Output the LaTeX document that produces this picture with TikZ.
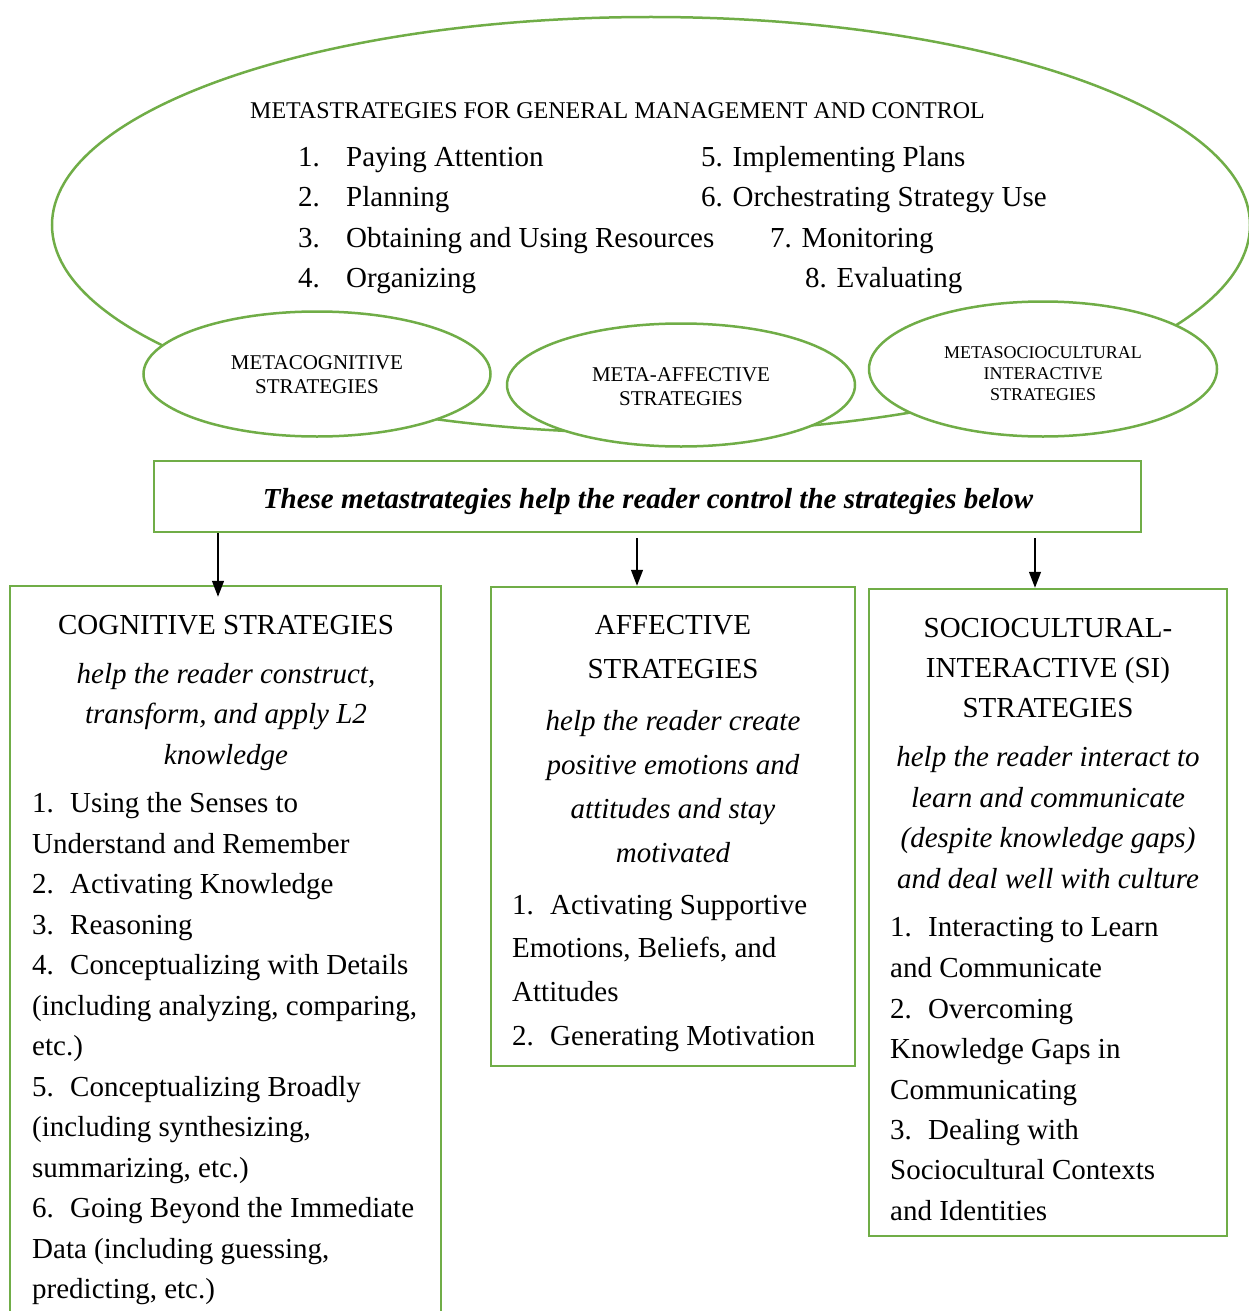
\documentclass[tikz,border=0pt]{standalone}
\usepackage{fontspec}
\setmainfont{Liberation Serif}
\usetikzlibrary{shapes.geometric,arrows.meta}
\definecolor{grn}{HTML}{70AD47}
\newcommand\numbx[1]{\makebox[38pt][l]{#1}}
\newcommand\numtop[1]{\makebox[48pt][l]{#1}}
\begin{document}
\begin{tikzpicture}[x=1pt,y=-1pt,
  gline/.style={draw=grn,line width=2.5pt},
  ell/.style={gline,ellipse,fill=white,inner sep=0},
  box/.style={gline,rectangle,inner sep=0},
  L/.style={font=\fontsize{29}{35}\selectfont,inner sep=0,anchor=base west},
  C/.style={font=\fontsize{29}{35}\selectfont,inner sep=0,anchor=base},
  IC/.style={font=\fontsize{29}{35}\selectfont\itshape,inner sep=0,anchor=base},
  arr/.style={-{Triangle[length=16pt,width=12pt]},line width=1.3pt}]
\useasboundingbox (0,0) rectangle (1248,1311);

% big ellipse
\node[gline,ellipse,inner sep=0,minimum width=1198pt,minimum height=416pt] (big) at (651,225) {};
\node[font=\fontsize{24}{28}\selectfont,inner sep=0,anchor=base west] (ttl) at (250,119) {METASTRATEGIES FOR GENERAL MANAGEMENT AND CONTROL};
\node[L] (m1) at (298,166) {\numtop{1.}Paying Attention};
\node[L] (m2) at (298,206) {\numtop{2.}Planning};
\node[L] (m3) at (298,247) {\numtop{3.}Obtaining and Using Resources};
\node[L] (m4) at (298,287) {\numtop{4.}Organizing};
\node[L] (m5) at (701,166) {5. Implementing Plans};
\node[L] (m6) at (701,206) {6. Orchestrating Strategy Use};
\node[L] (m7) at (770,247) {7. Monitoring};
\node[L] (m8) at (805,287) {8. Evaluating};

% small ellipses
\node[ell,minimum width=347pt,minimum height=125pt] (e1) at (317,374) {};
\node[ell,minimum width=348pt,minimum height=123pt] (e2) at (681,385) {};
\node[ell,minimum width=348pt,minimum height=135pt] (e3) at (1043,369) {};
\node[font=\fontsize{21}{24}\selectfont,align=center,inner sep=0] (t1) at (317,375) {METACOGNITIVE\\STRATEGIES};
\node[font=\fontsize{21}{24}\selectfont,align=center,inner sep=0] (t2) at (681,387) {META-AFFECTIVE\\STRATEGIES};
\node[font=\fontsize{18}{21}\selectfont,align=center,inner sep=0] (t3) at (1043,374) {METASOCIOCULTURAL\\INTERACTIVE\\STRATEGIES};

% banner
\node[box,minimum width=987pt,minimum height=71pt] (ban) at (647.5,496.5) {};
\node[font=\fontsize{29}{35}\selectfont\bfseries\itshape,inner sep=0,anchor=base] (bant) at (648,508) {These metastrategies help the reader control the strategies below};

% boxes
\node[box,minimum width=431pt,minimum height=760pt] (cog) at (225.5,966) {};
\node[box,minimum width=364pt,minimum height=479pt] (aff) at (673,826.5) {};
\node[box,minimum width=358pt,minimum height=647pt] (soc) at (1048,912.5) {};

% arrows
\coordinate (x1) at (218,0);
\coordinate (x2) at (637,0);
\coordinate (x3) at (1035,0);
\draw[arr] (ban.south -| x1) -- ([yshift=-12pt]cog.north -| x1);
\draw[arr] ([yshift=-5pt]ban.south -| x2) -- (aff.north -| x2);
\draw[arr] ([yshift=-5pt]ban.south -| x3) -- (soc.north -| x3);

% cognitive text
\node[C] (c0) at (226,634) {COGNITIVE STRATEGIES};
\node[IC] (ci1) at (226,683) {help the reader construct,};
\node[IC] (ci2) at (226,723) {transform, and apply L2};
\node[IC] (ci3) at (226,764) {knowledge};
\node[L] (c1) at (32,812) {\numbx{1.}Using the Senses to};
\node[L] (c2) at (32,853) {Understand and Remember};
\node[L] (c3) at (32,893) {\numbx{2.}Activating Knowledge};
\node[L] (c4) at (32,934) {\numbx{3.}Reasoning};
\node[L] (c5) at (32,974) {\numbx{4.}Conceptualizing with Details};
\node[L] (c6) at (32,1015) {(including analyzing, comparing,};
\node[L] (c7) at (32,1055) {etc.)};
\node[L] (c8) at (32,1096) {\numbx{5.}Conceptualizing Broadly};
\node[L] (c9) at (32,1136) {(including synthesizing,};
\node[L] (c10) at (32,1177) {summarizing, etc.)};
\node[L] (c11) at (32,1217) {\numbx{6.}Going Beyond the Immediate};
\node[L] (c12) at (32,1258) {Data (including guessing,};
\node[L] (c13) at (32,1298) {predicting, etc.)};

% affective text
\node[C] (a0) at (673,634) {AFFECTIVE};
\node[C] (a00) at (673,678) {STRATEGIES};
\node[IC] (ai1) at (673,730) {help the reader create};
\node[IC] (ai2) at (673,774) {positive emotions and};
\node[IC] (ai3) at (673,818) {attitudes and stay};
\node[IC] (ai4) at (673,862) {motivated};
\node[L] (a1) at (512,914) {\numbx{1.}Activating Supportive};
\node[L] (a2) at (512,957) {Emotions, Beliefs, and};
\node[L] (a3) at (512,1001) {Attitudes};
\node[L] (a4) at (512,1045) {\numbx{2.}Generating Motivation};

% SI text
\node[C] (s0) at (1048,637) {SOCIOCULTURAL-};
\node[C] (s00) at (1048,677) {INTERACTIVE (SI)};
\node[C] (s000) at (1048,717) {STRATEGIES};
\node[IC] (si1) at (1048,766) {help the reader interact to};
\node[IC] (si2) at (1048,807) {learn and communicate};
\node[IC] (si3) at (1048,847) {(despite knowledge gaps)};
\node[IC] (si4) at (1048,888) {and deal well with culture};
\node[L] (s1) at (890,936) {\numbx{1.}Interacting to Learn};
\node[L] (s2) at (890,977) {and Communicate};
\node[L] (s3) at (890,1018) {\numbx{2.}Overcoming};
\node[L] (s4) at (890,1058) {Knowledge Gaps in};
\node[L] (s5) at (890,1099) {Communicating};
\node[L] (s6) at (890,1139) {\numbx{3.}Dealing with};
\node[L] (s7) at (890,1179) {Sociocultural Contexts};
\node[L] (s8) at (890,1220) {and Identities};
\end{tikzpicture}
\end{document}
